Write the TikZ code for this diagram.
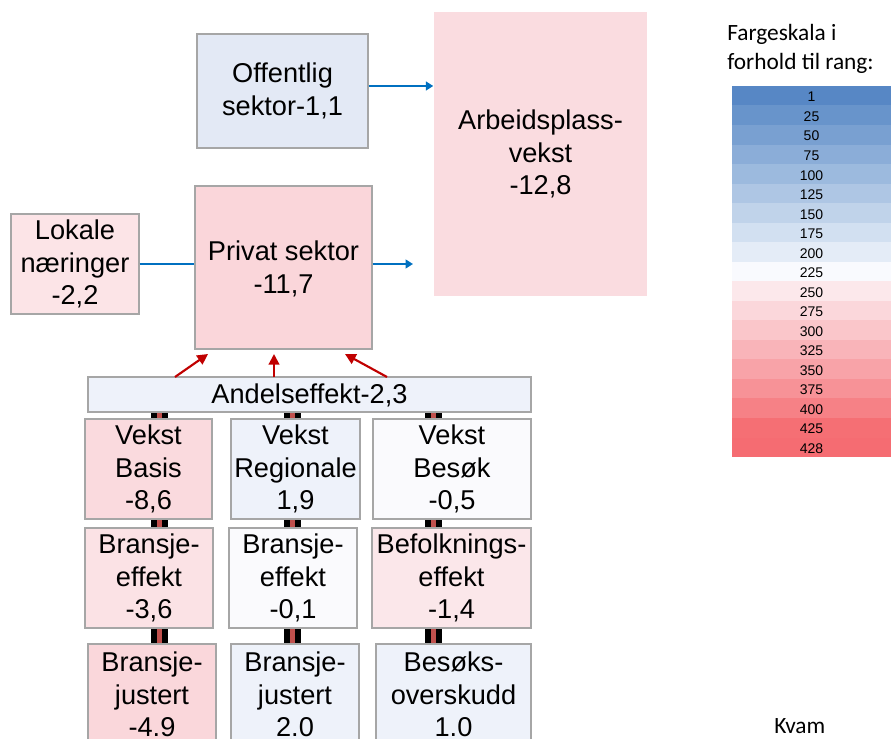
\documentclass[tikz,border=0pt]{standalone}
\usepackage{fontspec}
\setmainfont{Liberation Sans}
\newfontfamily\calib{Carlito}
\usetikzlibrary{arrows.meta,fit,backgrounds}
\definecolor{bordergray}{HTML}{A6A6A6}
\definecolor{arrblue}{HTML}{0070C0}
\definecolor{arrred}{HTML}{C00000}
\definecolor{stripe}{HTML}{C0504D}
\definecolor{fOff}{HTML}{E3E9F5}
\definecolor{fArb}{HTML}{FADCE0}
\definecolor{fPriv}{HTML}{FAD6DA}
\definecolor{fLok}{HTML}{FCE4E7}
\definecolor{fLightBlue}{HTML}{EEF2FA}
\definecolor{fWhite}{HTML}{FAFAFD}
\definecolor{fBasis}{HTML}{FADADE}
\definecolor{fBEa}{HTML}{FBE2E5}
\definecolor{fBef}{HTML}{FBE7EA}
\definecolor{fBJa}{HTML}{FAD7DB}
\tikzset{
  box/.style={draw=bordergray, line width=1.1pt, inner sep=0pt},
  boxtext/.style={inner sep=0pt, align=center, font=\fontsize{20.4}{24.4}\selectfont},
  bluearr/.style={draw=arrblue, line width=1.6pt, -{Triangle[length=5.5pt,width=6.5pt]}},
  blueline/.style={draw=arrblue, line width=1.6pt},
  redarr/.style={draw=arrred, line width=1.6pt, -{Triangle[length=8pt,width=8pt]}},
  conblack/.style={draw=black, line width=12.75pt},
  conred/.style={draw=stripe, line width=3.75pt},
  scalecell/.style={inner sep=0pt, minimum width=119.25pt, minimum height=14.7pt},
  calibtext/.style={inner sep=0pt, anchor=base west, font=\calib\fontsize{17.5}{22}\selectfont}
}
\begin{document}
\begin{tikzpicture}[x=0.75pt,y=-0.75pt]
\useasboundingbox (0,0) rectangle (891,738);
\clip (0,0) rectangle (891,738);

% boxes
\node[box, fill=fOff, fit={(197,34) (368,148)}] (off) {};
\node[box, fill=fArb, draw=none, fit={(434,12) (647,296)}] (arb) {};
\node[box, fill=fLok, fit={(11,214) (139,314)}] (lok) {};
\node[box, fill=fPriv, fit={(195,186) (372,349)}] (priv) {};
\node[box, fill=fLightBlue, fit={(88,377) (531,412)}] (andel) {};
\node[box, fill=fBasis, fit={(85,419) (212,519)}] (r1c1) {};
\node[box, fill=fLightBlue, fit={(231,419) (360,519)}] (r1c2) {};
\node[box, fill=fWhite, fit={(373,419) (531,519)}] (r1c3) {};
\node[box, fill=fBEa, fit={(85,528) (213,628)}] (r2c1) {};
\node[box, fill=fWhite, fit={(229,528) (357,628)}] (r2c2) {};
\node[box, fill=fBef, fit={(372,528) (531,628)}] (r2c3) {};
\node[box, fill=fBJa, fit={(88,644) (216,745)}] (r3c1) {};
\node[box, fill=fLightBlue, fit={(231,644) (359,745)}] (r3c2) {};
\node[box, fill=fLightBlue, fit={(376,644) (531,745)}] (r3c3) {};

% box texts
\node[boxtext] (toff) at (off.center) {Offentlig\\sektor-1,1};
\node[boxtext] (tarb) at (arb.center) {Arbeidsplass-\\vekst\\-12,8};
\node[boxtext] (tlok) at (lok.center) {Lokale\\næringer\\-2,2};
\node[boxtext] (tpriv) at ([yshift=-1pt]priv.center) {Privat sektor\\-11,7};
\node[boxtext] (tandel) at ([yshift=-1pt]andel.center) {Andelseffekt-2,3};
\node[boxtext] (tr1c1) at (r1c1.center) {Vekst\\Basis\\-8,6};
\node[boxtext] (tr1c2) at (r1c2.center) {Vekst\\Regionale\\1,9};
\node[boxtext] (tr1c3) at (r1c3.center) {Vekst\\Besøk\\-0,5};
\node[boxtext] (tr2c1) at (r2c1.center) {Bransje-\\effekt\\-3,6};
\node[boxtext] (tr2c2) at (r2c2.center) {Bransje-\\effekt\\-0,1};
\node[boxtext] (tr2c3) at (r2c3.center) {Befolknings-\\effekt\\-1,4};
\node[boxtext] (tr3c1) at (r3c1.center) {Bransje-\\justert\\-4.9};
\node[boxtext] (tr3c2) at (r3c2.center) {Bransje-\\justert\\2.0};
\node[boxtext] (tr3c3) at (r3c3.center) {Besøks-\\overskudd\\1.0};

% striped connectors behind the boxes
\begin{scope}[on background layer]
  \foreach \x/\n in {159.5/1, 292/2, 433.7/3}{
    \draw[conblack] (andel.south -| \x,0) -- (r3c\n.north -| \x,0);
    \draw[conred] (andel.south -| \x,0) -- (r3c\n.north -| \x,0);
  }
\end{scope}

% blue connectors
\draw[bluearr] ([yshift=3.75pt]off.east) -- ([yshift=3.75pt]off.east -| arb.west);
\draw[blueline] (lok.east) -- (lok.east -| priv.west);
\coordinate (parr) at (413,264);
\draw[bluearr] (priv.east |- parr) -- (parr);

% red arrows
\coordinate (ra1) at (175,377);
\coordinate (rt1) at (208,354);
\coordinate (ra2) at (274,377);
\coordinate (rt2) at (274,354);
\coordinate (ra3) at (387,377);
\coordinate (rt3) at (345,354);
\draw[redarr] (ra1) -- (rt1);
\draw[redarr] (ra2) -- (rt2);
\draw[redarr] (ra3) -- (rt3);

% colour scale
\node[calibtext] (title1) at (727,41) {Fargeskala i};
\node[calibtext] (title2) at (727,70) {forhold til rang:};
\foreach \v/\c [count=\i] in {1/5787C5, 25/6894CB, 50/79A0D1, 75/8BADD8, 100/9CBADE,
  125/AEC6E4, 150/C0D3EA, 175/D2E0F1, 200/E4ECF7, 225/F9FAFE, 250/FCE8EB,
  275/FBD7DB, 300/FAC6CA, 325/F9B4B9, 350/F8A3A8, 375/F79297, 400/F68186,
  425/F56F74, 428/F56C72}{
  \definecolor{tmpc}{HTML}{\c}
  \node[scalecell, fill=tmpc] (s\i) at (811.5,{86+(\i-0.5)*19.53}) {};
  \node[inner sep=0pt, font=\fontsize{10.5}{12}\selectfont] (l\i) at ([yshift=-1pt]s\i.center) {\v};
}

\node[calibtext] (kvam) at (774,733) {Kvam};
\end{tikzpicture}
\end{document}
